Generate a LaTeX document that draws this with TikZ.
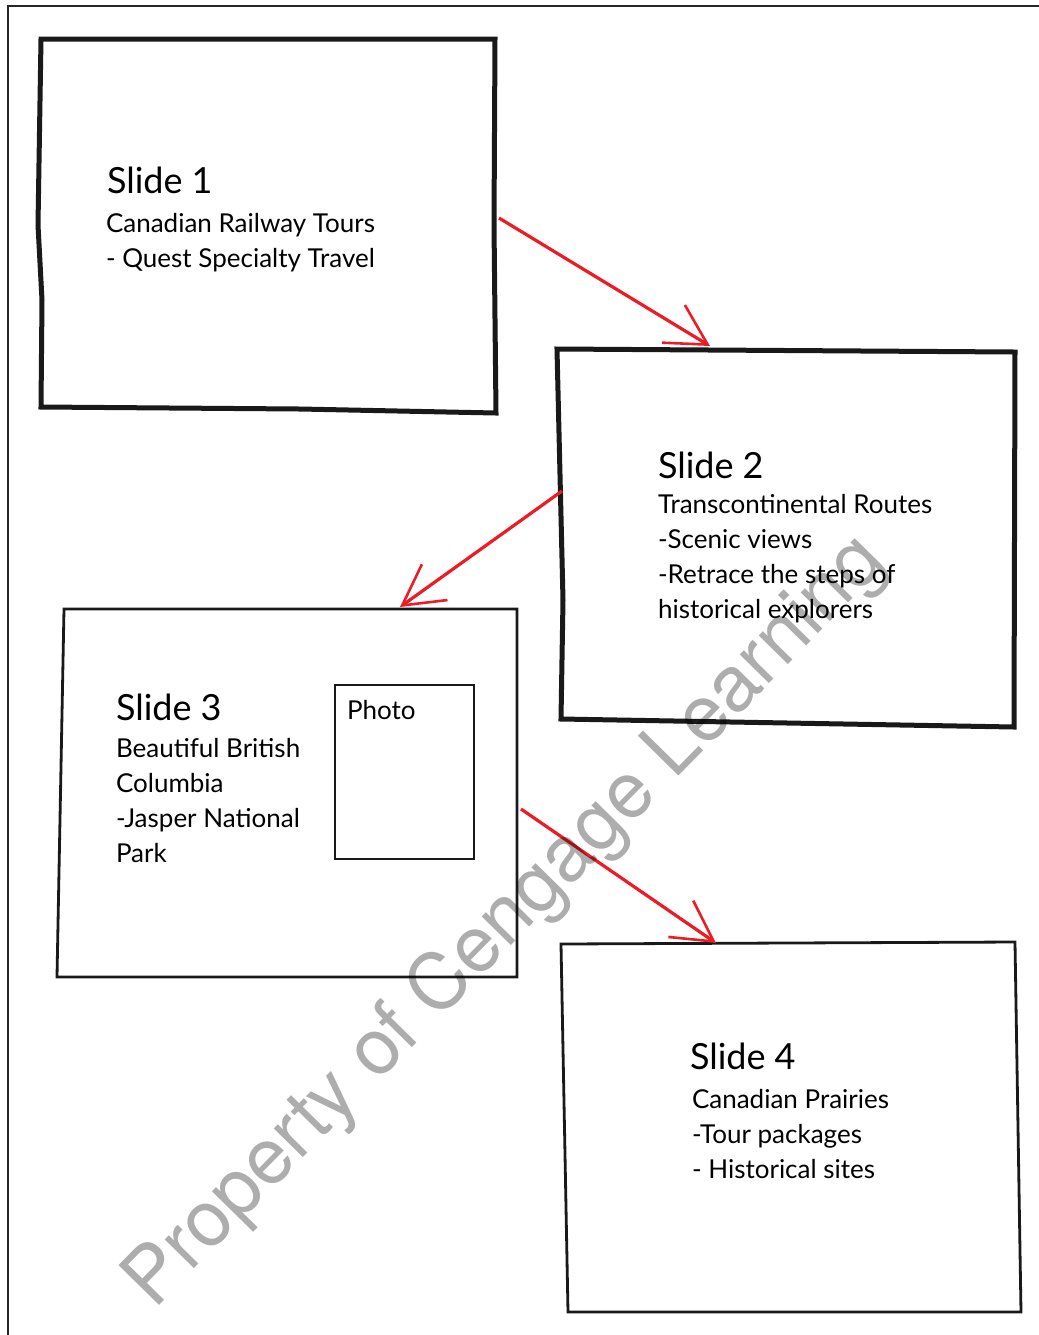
\documentclass[tikz,border=0pt]{standalone}
\usepackage{fontspec}
\setmainfont{Lato}
\newfontfamily\markfont{TeX Gyre Heros}
\usetikzlibrary{arrows.meta}
\definecolor{arrowred}{RGB}{237,28,36}
\tikzset{
  slideframe/.style={draw=black!90, line width=2.5pt, line join=miter},
  thinframe/.style={draw=black!90, line width=1.4pt, line join=miter},
  flowarrow/.style={draw=arrowred, line width=1.6pt, -{Straight Barb[length=20pt,width=22pt,line width=1.3pt]}},
  titletext/.style={anchor=base west, inner sep=0pt, font=\fontsize{18}{22}\selectfont},
  bodytext/.style={anchor=north west, inner sep=0pt, align=left, font=\fontsize{13}{17.6}\selectfont},
}

\begin{document}
\begin{tikzpicture}[x=0.5pt, y=-0.5pt, inner sep=0pt, outer sep=0pt]
\useasboundingbox (0,0) rectangle (1039,1335);
\draw[line width=1pt, black!85] (8,1335) -- (8,6) -- (1039,6);

\draw[slideframe] (41,39) -- (495,39) -- (494,225) -- (496,413) -- (300,409) -- (41,407) -- (42,300) -- (38,225) -- cycle;
\node[titletext] (s1title) at (107,193) {Slide 1};
\node[bodytext] (s1body) at (106,213) {Canadian Railway Tours\\- Quest Specialty Travel};

\draw[slideframe] (557,349) -- (1015,352) -- (1014,727) -- (561,719) -- (563,600) -- cycle;
\node[titletext] (s2title) at (658,478) {Slide 2};
\node[bodytext] (s2body) at (658,494) {Transcontinental Routes\\-Scenic views\\-Retrace the steps of\\historical explorers};

\draw[thinframe] (64,609) -- (517,609) -- (517,977) -- (57,977) -- cycle;
\node[titletext] (s3title) at (116,720) {Slide 3};
\node[bodytext] (s3body) at (116,738) {Beautiful British\\Columbia\\-Jasper National\\Park};
\draw[line width=1pt, black!90] (335,685) rectangle (474,859);
\node[bodytext, anchor=base west] (photo) at (347,719) {Photo};

\draw[thinframe] (561,944) -- (1015,942) -- (1021,1312) -- (568,1312) -- cycle;
\node[titletext] (s4title) at (690,1069) {Slide 4};
\node[bodytext] (s4body) at (692,1089) {Canadian Prairies\\-Tour packages\\- Historical sites};

\coordinate (s1out) at (499,218);
\coordinate (s2in) at (710,346);
\coordinate (s2out) at (562,491);
\coordinate (s3in) at (400,607);
\coordinate (s3out) at (521,809);
\coordinate (s4in) at (716,943);
\draw[flowarrow] (s1out) -- (s2in);
\draw[flowarrow] (s2out) -- (s3in);
\draw[flowarrow] (s3out) -- (s4in);

\node[anchor=base west, rotate=45.5, text=black, text opacity=0.32, font=\markfont\fontsize{39}{39}\selectfont] (mark) at (154,1310) {Property of Cengage Learning};
\end{tikzpicture}
\end{document}
